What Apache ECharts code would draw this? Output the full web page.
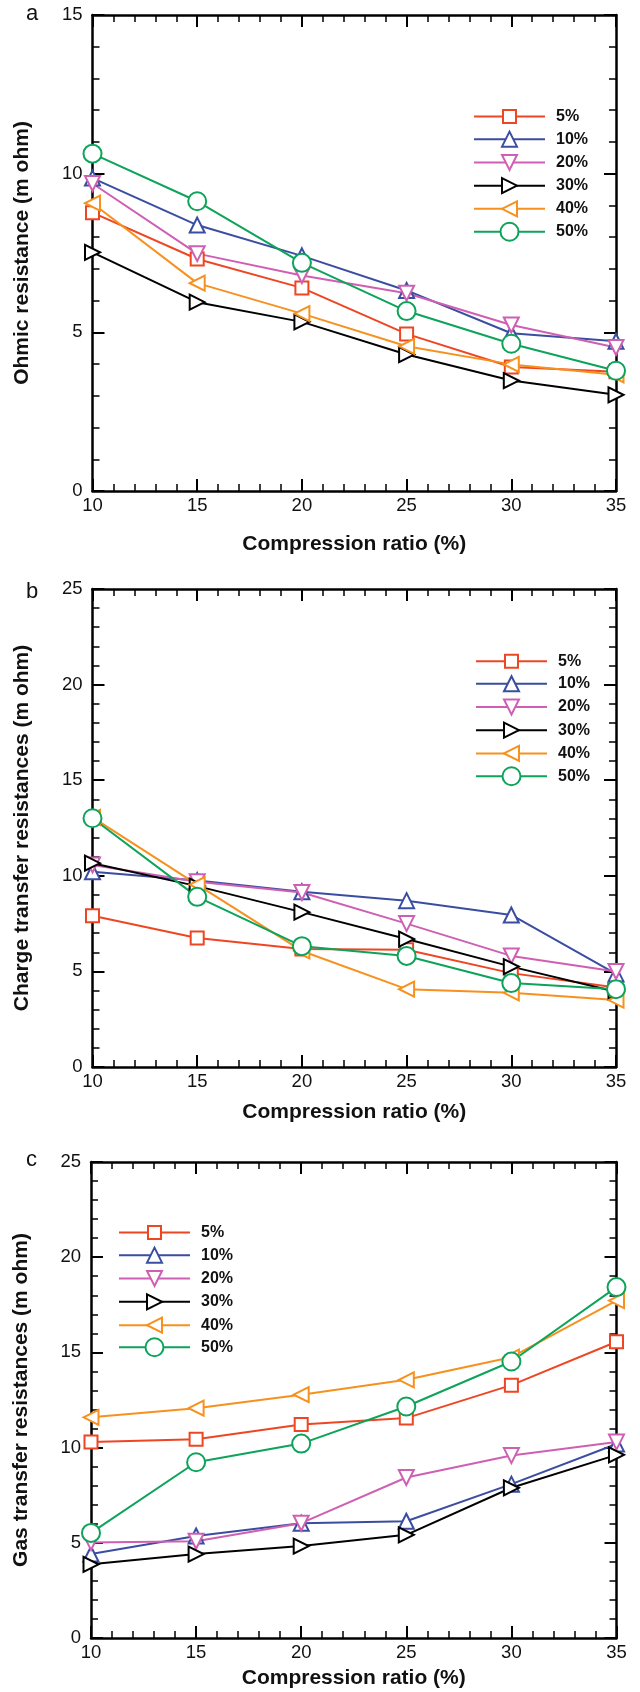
<!DOCTYPE html>
<html><head><meta charset="utf-8">
<script src="https://cdn.jsdelivr.net/npm/echarts@6/dist/echarts.min.js"></script>
<style>html,body{margin:0;padding:0;background:#fff}#c{width:640px;height:1692px}</style>
</head><body><div id="c"></div>
<script>
// ---------- data ----------
const xValues = [10, 15, 20, 25, 30, 35];
const seriesNames = ['5%', '10%', '20%', '30%', '40%', '50%'];
const xTitle = 'Compression ratio (%)';
const yTitles = ['Ohmic resistance (m ohm)', 'Charge transfer resistances (m ohm)', 'Gas transfer resistances (m ohm)'];
const panelLetters = ['a', 'b', 'c'];
const yMaxes = [15, 25, 25];

// (a) Ohmic resistance
const ohm5  = [8.77, 7.31, 6.40, 4.95, 3.91, 3.76];
const ohm10 = [9.86, 8.38, 7.41, 6.32, 4.97, 4.72];
const ohm20 = [9.69, 7.48, 6.79, 6.23, 5.23, 4.52];
const ohm30 = [7.52, 5.95, 5.33, 4.30, 3.48, 3.03];
const ohm40 = [9.07, 6.55, 5.59, 4.56, 3.99, 3.66];
const ohm50 = [10.63, 9.13, 7.19, 5.67, 4.64, 3.79];

// (b) Charge transfer resistances
const ct5  = [7.91, 6.75, 6.17, 6.13, 4.91, 4.16];
const ct10 = [10.21, 9.75, 9.16, 8.70, 7.95, 4.87];
const ct20 = [10.57, 9.69, 9.13, 7.50, 5.81, 5.00];
const ct30 = [10.66, 9.46, 8.10, 6.69, 5.25, 3.94];
const ct40 = [13.06, 9.54, 6.07, 4.07, 3.88, 3.50];
const ct50 = [13.01, 8.90, 6.32, 5.81, 4.39, 4.07];

// (c) Gas transfer resistances
const gt5  = [10.29, 10.44, 11.21, 11.55, 13.28, 15.56];
const gt10 = [4.41, 5.36, 6.03, 6.13, 8.08, 10.19];
const gt20 = [5.02, 5.08, 6.03, 8.43, 9.58, 10.29];
const gt30 = [3.87, 4.41, 4.83, 5.42, 7.89, 9.62];
const gt40 = [11.59, 12.07, 12.78, 13.56, 14.75, 17.72];
const gt50 = [5.52, 9.23, 10.21, 12.16, 14.52, 18.43];

const panelData = [
  [ohm5, ohm10, ohm20, ohm30, ohm40, ohm50],
  [ct5, ct10, ct20, ct30, ct40, ct50],
  [gt5, gt10, gt20, gt30, gt40, gt50]
];

// ---------- styles / layout ----------
const FONT = 'Liberation Sans, Arial, Helvetica, sans-serif';
const colors = ['#EE4623', '#3A4DA0', '#CF5FB2', '#000000', '#F7911E', '#0DA35A'];
const symbols = ['emptyRect', 'emptyTriangle', 'emptyTriangle', 'emptyTriangle', 'emptyTriangle', 'emptyCircle'];
const symbolRot = [0, 0, 180, -90, 90, 0];
const symbolSizes = [13, 15, 15, 15, 15, 18];

const grids = [
  { left: 92.5, top: 15, width: 523.5, height: 476 },
  { left: 92.5, top: 589, width: 523.5, height: 478 },
  { left: 91, top: 1162, width: 525.5, height: 476 }
];
const xNameGaps = [43, 35, 30];
const yNameGaps = [60, 60, 59];
const legendLeft = [473, 475, 118];
const legendRows = [
  [116.7, 140, 163.3, 186.5, 209.7, 233],
  [661.4, 684.6, 707.9, 731.1, 754.3, 777.5],
  [1232.7, 1256, 1279.3, 1302.7, 1326, 1348.5]
];
const letterPos = [[26, 14], [26, 592], [26, 1160]];

const axisLineStyle = { color: '#000', width: 2.5 };
const xAxes = [], yAxes = [], series = [], legends = [], graphics = [];

grids.forEach((g, p) => {
  const base = {
    gridIndex: p, type: 'value',
    axisLine: { show: true, onZero: false, lineStyle: axisLineStyle },
    axisTick: { show: true, inside: true, length: 12, lineStyle: { color: '#000', width: 2 } },
    minorTick: { show: true, splitNumber: 5, length: 7, lineStyle: { color: '#000', width: 1.5 } },
    splitLine: { show: false }, minorSplitLine: { show: false }
  };
  xAxes.push(Object.assign({}, base, {
    position: 'bottom', min: 10, max: 35, interval: 5,
    axisLabel: { show: true, margin: 5, fontSize: 18.5, color: '#111', fontFamily: FONT },
    name: xTitle, nameLocation: 'middle', nameGap: xNameGaps[p],
    nameTextStyle: { fontSize: 21, fontWeight: 'bold', color: '#111', fontFamily: FONT }
  }));
  xAxes.push(Object.assign({}, base, {
    position: 'top', min: 10, max: 35, interval: 5, axisLabel: { show: false }
  }));
  yAxes.push(Object.assign({}, base, {
    position: 'left', min: 0, max: yMaxes[p], interval: 5,
    axisLabel: { show: true, margin: 10, fontSize: 18.5, color: '#111', fontFamily: FONT },
    name: yTitles[p], nameLocation: 'middle', nameGap: yNameGaps[p], nameRotate: 90,
    nameTextStyle: { fontSize: 21, fontWeight: 'bold', color: '#111', fontFamily: FONT }
  }));
  yAxes.push(Object.assign({}, base, {
    position: 'right', min: 0, max: yMaxes[p], interval: 5, axisLabel: { show: false }
  }));

  panelData[p].forEach((arr, i) => {
    series.push({
      type: 'line', name: seriesNames[i],
      xAxisIndex: p * 2, yAxisIndex: p * 2,
      data: xValues.map((x, k) => [x, arr[k]]),
      symbol: symbols[i], symbolSize: symbolSizes[i], symbolRotate: symbolRot[i],
      showAllSymbol: true,
      lineStyle: { color: colors[i], width: 2 },
      itemStyle: { color: colors[i], borderColor: colors[i], borderWidth: 2 },
      emphasis: { disabled: true },
      animation: false
    });
    const ih = symbolSizes[i] / 0.8;
    legends.push({
      show: true, data: [seriesNames[i]], selectedMode: false,
      left: legendLeft[p], top: legendRows[p][i] - ih / 2,
      padding: 0, itemGap: 0, itemWidth: 71, itemHeight: ih,
      textStyle: { fontSize: 16, fontWeight: 'bold', color: '#111', fontFamily: FONT, padding: [0, 0, 0, 6] }
    });
  });

  graphics.push({
    type: 'text', x: letterPos[p][0], y: letterPos[p][1],
    style: { text: panelLetters[p], font: '22px ' + FONT, fill: '#111', verticalAlign: 'middle', align: 'left' }
  });
});

const chart = echarts.init(document.getElementById('c'), null, { renderer: 'canvas' });
chart.setOption({
  animation: false,
  backgroundColor: '#fff',
  grid: grids.map(g => Object.assign({ outerBoundsMode: 'none', containLabel: false }, g)),
  xAxis: xAxes,
  yAxis: yAxes,
  legend: legends,
  series: series,
  graphic: graphics
});
</script></body></html>
